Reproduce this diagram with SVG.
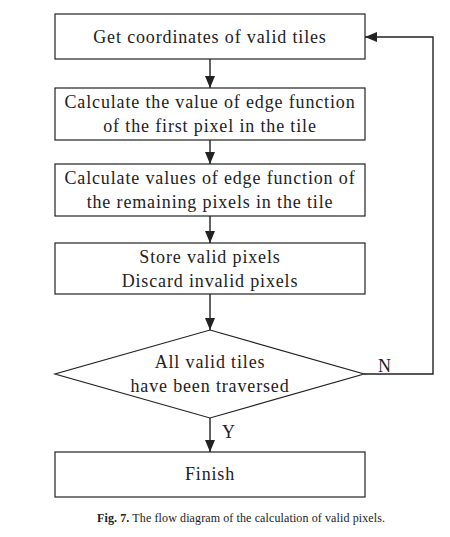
<svg xmlns="http://www.w3.org/2000/svg" width="450" height="537" viewBox="0 0 450 537">
<style>
.box{fill:#fff;stroke:#222;stroke-width:1.2}
.t{font-family:"Liberation Serif","Times New Roman",serif;font-size:18px;letter-spacing:0.85px;fill:#222;text-anchor:middle}
.lbl{font-family:"Liberation Serif","Times New Roman",serif;font-size:18px;fill:#222}
.c{fill:none;stroke:#222;stroke-width:1.4}
.cap{font-family:"Liberation Serif","Times New Roman",serif;font-size:12px;fill:#222}
</style>
<defs>
<marker id="ah" viewBox="0 0 12 10" refX="12" refY="5" markerWidth="12" markerHeight="10" markerUnits="userSpaceOnUse" orient="auto">
<path d="M0,0 L12,5 L0,10 Z" fill="#222"/>
</marker>
</defs>
<rect width="450" height="537" fill="#fff"/>
<g id="connectors">
<line class="c" x1="210" y1="59" x2="210" y2="88" marker-end="url(#ah)"/>
<line class="c" x1="210" y1="140" x2="210" y2="164" marker-end="url(#ah)"/>
<line class="c" x1="210" y1="216" x2="210" y2="243" marker-end="url(#ah)"/>
<line class="c" x1="210" y1="294" x2="210" y2="330" marker-end="url(#ah)"/>
<line class="c" x1="210" y1="418" x2="210" y2="452" marker-end="url(#ah)"/>
<polyline class="c" points="364,374 433,374 433,37 365,37" marker-end="url(#ah)"/>
<text class="lbl" x="378" y="372">N</text>
<text class="lbl" x="222" y="438">Y</text>
</g>
<g id="n1">
<rect class="box" x="55" y="14" width="310" height="45"/>
<text class="t" x="210" y="43">Get coordinates of valid tiles</text>
</g>
<g id="n2">
<rect class="box" x="55" y="88" width="310" height="52"/>
<text class="t" x="210" y="108">Calculate the value of edge function</text>
<text class="t" x="210" y="132">of the first pixel in the tile</text>
</g>
<g id="n3">
<rect class="box" x="55" y="164" width="310" height="52"/>
<text class="t" x="210" y="184">Calculate values of edge function of</text>
<text class="t" x="210" y="208">the remaining pixels in the tile</text>
</g>
<g id="n4">
<rect class="box" x="55" y="243" width="310" height="51"/>
<text class="t" x="210" y="263">Store valid pixels</text>
<text class="t" x="210" y="287">Discard invalid pixels</text>
</g>
<g id="n5">
<polygon class="box" points="210,330 364,374 210,418 55,374"/>
<text class="t" x="210" y="368">All valid tiles</text>
<text class="t" x="210" y="392">have been traversed</text>
</g>
<g id="n6">
<rect class="box" x="55" y="452" width="310" height="45"/>
<text class="t" x="210" y="480">Finish</text>
</g>
<text class="cap" x="97" y="522" textLength="288" lengthAdjust="spacing"><tspan font-weight="bold">Fig. 7.</tspan> The flow diagram of the calculation of valid pixels.</text>
</svg>
